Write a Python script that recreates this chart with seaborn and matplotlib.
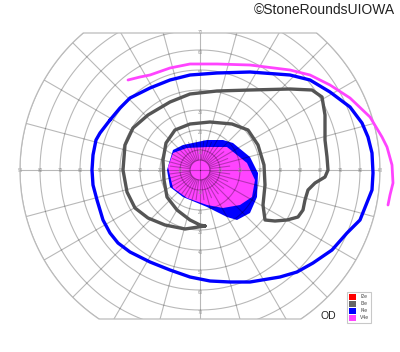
import numpy as np
import matplotlib
matplotlib.use("Agg")
import matplotlib.pyplot as plt
import seaborn as sns
from matplotlib.patches import Polygon, Patch

sns.set_theme(style="white")
plt.rcParams['font.family'] = ['Liberation Sans', 'DejaVu Sans']

# ---- isopter data (degrees of visual field: x = horizontal, y = vertical) ----
v4e_x = [-36, -30, -25, -15, -5, 8.5, 25, 45, 55, 65, 75, 85, 91, 93.5, 96, 96.5, 95, 94]
v4e_y = [45, 46.5, 47.5, 51, 53, 53, 52.5, 50, 47.5, 42.5, 36, 26.5, 16.5, 11.5, 2.5, -6.5, -12.5, -17.5]

i4e_x = [-45, -40, -35, -25, -15, -5, 8.5, 25, 45, 55, 65, 75, 81, 84, 86, 86.5, 86, 84, 80,
         73.5, 66, 56.5, 48.5, 40, 25, 15, 5, -5, -15, -25, -35, -41, -45, -48.5, -51.5,
         -53.5, -54, -53.5, -52, -50]
i4e_y = [25, 31, 36, 41, 45, 47.5, 48.5, 49, 47.5, 45, 39, 31.5, 23.5, 16.5, 8.5, -1.5, -10, -15, -25,
         -31.5, -40, -46.5, -51, -53.5, -56, -56, -55.5, -53.5, -50, -46, -41, -36.5, -31.5, -25, -15,
         -7.5, 0, 7.5, 15, 18.5]

i3e_x = [2.5, -7.5, -17.5, -26, -32.5, -36.5, -38.5, -37.5, -33.5, -26, -15, -5, 8.5, 25, 45, 56,
         61, 62.5, 62.5, 63.5, 64, 62.5, 57.5, 54, 52.5, 51.5, 49, 43.5, 37.5, 32.5, 31.5, 32.5,
         32, 29, 24, 16, 5, -5, -12.5, -17, -18.5, -18, -16.5, -11.5, -5, 0]
i3e_y = [-28, -29.5, -27.5, -24, -19, -11, 0, 12.5, 21, 27.5, 34, 38, 39.5, 40, 40.5, 40,
         36.5, 27.5, 15, 6.5, 0, -3.5, -6.5, -10, -15, -20, -23.5, -25, -25.5, -25, -17.5, -7.5,
         2.5, 12.5, 20, 23, 24, 23, 20, 13.5, 5, -5, -13.5, -20, -25, -27.5]

i4e_fill_x = [-16.5, -13.5, -8.5, 3.5, 11.5, 16.5, 25, 29, 28.5, 25, 18.5, 13.5, 3.5, -8.5, -15]
i4e_fill_y = [0, 10, 12.5, 15, 15, 13.5, 6.5, -1.5, -13.5, -21.5, -25, -23.5, -18.5, -13.5, -8.5]

v4e_fill_x = [-16, -13.5, -6.5, 3.5, 13.5, 23.5, 27.5, 26, 20, 11.5, 3.5, -6.5, -13.5]
v4e_fill_y = [1.5, 8.5, 11, 11.5, 11.5, 3.5, -5, -13.5, -17.5, -19, -17.5, -14, -9]

legend_labels = ["I2e", "I3e", "I4e", "V4e"]
legend_colors = ["#ff0000", "#666666", "#0000ff", "#ff44ff"]

ring_ecc = [10, 20, 30, 40, 50, 60, 70, 80, 90]
top_limit, bottom_limit = 68.5, -74.5

# ---- figure ----
fig = plt.figure(figsize=(4.0, 3.52), dpi=100)
ax = fig.add_axes([0, 0, 1, 1])
ax.set_xlim(-100, 100)
ax.set_ylim(-91, 85)
ax.set_aspect('equal')
ax.axis('off')

# chart boundary (90 deg circle cut by top/bottom lines)
t_top = np.degrees(np.arcsin(top_limit / 90))
t_bot = np.degrees(np.arcsin(-bottom_limit / 90))
angs = np.concatenate([np.linspace(t_top, 180 - t_top, 2),
                       np.linspace(180 - t_top, 180 + t_bot, 120),
                       np.linspace(180 + t_bot, 360 - t_bot, 2),
                       np.linspace(360 - t_bot, 360 + t_top, 120)])
bx = 90 * np.cos(np.radians(angs))
by = np.clip(90 * np.sin(np.radians(angs)), bottom_limit, top_limit)
boundary = Polygon(np.column_stack([bx, by]), closed=True, facecolor='none',
                   edgecolor='#bbbbbb', lw=0.9, zorder=3)
ax.add_patch(boundary)

# filled central areas
ax.fill(i4e_fill_x, i4e_fill_y, color="#0000ff", lw=0, zorder=1)
ax.fill(v4e_fill_x, v4e_fill_y, color="#ff44ff", lw=0, zorder=1.5)

grid_kw = dict(color='black', alpha=0.28, lw=0.8, zorder=2)
th = np.linspace(0, 2 * np.pi, 400)
for r in [5] + ring_ecc:
    ln, = ax.plot(r * np.cos(th), r * np.sin(th), **grid_kw)
    ln.set_clip_path(boundary)
for a in range(0, 360, 15):
    r0 = 0 if a % 90 == 0 else 5
    ln, = ax.plot([r0 * np.cos(np.radians(a)), 95 * np.cos(np.radians(a))],
                  [r0 * np.sin(np.radians(a)), 95 * np.sin(np.radians(a))], **grid_kw)
    ln.set_clip_path(boundary)
for a in np.arange(7.5, 360, 15):
    ax.plot([5 * np.cos(np.radians(a)), 15 * np.cos(np.radians(a))],
            [5 * np.sin(np.radians(a)), 15 * np.sin(np.radians(a))], **grid_kw)

# eccentricity labels
lab_kw = dict(fontsize=3.3, color='#999999', ha='center', va='center', zorder=2.5)
for r in ring_ecc:
    for sx in (-1, 1):
        ax.text(sx * r, 0, str(r), **lab_kw)
    if r <= 70:
        ax.text(0, r - 1.5, str(r), **lab_kw)
        ax.text(0, -r - 1.5, str(r), **lab_kw)

# isopters
sns.lineplot(x=i3e_x + i3e_x[:1], y=i3e_y + i3e_y[:1], sort=False, estimator=None,
             color="#555555", lw=2.4, ax=ax, zorder=4)
sns.lineplot(x=i4e_x + i4e_x[:1], y=i4e_y + i4e_y[:1], sort=False, estimator=None,
             color="#0000ff", lw=2.4, ax=ax, zorder=5)
sns.lineplot(x=v4e_x, y=v4e_y, sort=False, estimator=None,
             color="#ff44ff", lw=2.0, ax=ax, zorder=5)
for l in ax.lines[-3:]:
    l.set_solid_joinstyle('round')
    l.set_solid_capstyle('round')

ax.text(97.5, 80, "\u00a9StoneRoundsUIOWA", fontsize=10, color='#222222', ha='right', va='center')
ax.text(64, -73, "OD", fontsize=7.5, color='#222222', ha='center', va='center')

handles = [Patch(facecolor=c, edgecolor='none', label=l) for l, c in zip(legend_labels, legend_colors)]
leg = ax.legend(handles=handles, loc='upper left', bbox_to_anchor=(0.862, 0.178),
                fontsize=3.6, handlelength=1.4, handleheight=1.4, handletextpad=0.8,
                labelspacing=0.25, borderpad=0.4, frameon=True, fancybox=False)
leg.get_frame().set_edgecolor('#bbbbbb')
leg.get_frame().set_linewidth(0.8)
for t in leg.get_texts():
    t.set_color('#444444')

fig.savefig("out.png", dpi=100)
